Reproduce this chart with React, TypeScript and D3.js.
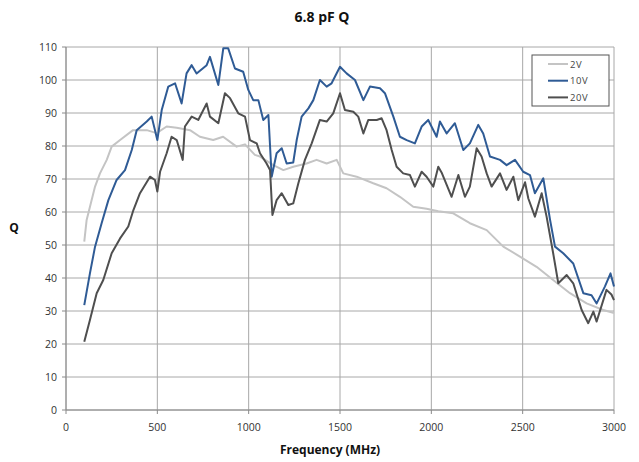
import React from "react";
import * as d3 from "d3";

const xTicks = [0, 500, 1000, 1500, 2000, 2500, 3000];
const yTicks = [0, 10, 20, 30, 40, 50, 60, 70, 80, 90, 100, 110];
const seriesNames = ["2V", "10V", "20V"];
const seriesColors = ["#c4c4c4", "#2f5b95", "#4f4f4f"];

const freq2V = [100,113,159,186,223,250,296,367,442,496,551,606,679,733,806,860,934,980,1034,1062,1135,1190,1244,1317,1372,1427,1482,1518,1591,1682,1755,1828,1901,1974,2038,2120,2211,2303,2394,2485,2576,2667,2759,2850,2941,3000];
const q2V = [51,57.6,67.7,71.7,75.8,79.8,81.8,84.8,84.8,83.9,85.9,85.5,84.8,82.8,81.8,82.8,79.8,80.5,77.3,76.8,74.2,72.7,73.7,74.7,75.8,74.7,75.8,71.7,70.7,68.7,67.2,64.6,61.6,61,60.2,59.6,56.6,54.5,49.5,46.5,43.4,39.4,35.4,32.3,30.3,29.4];

const freq10V = [100,131,159,195,232,277,323,360,387,442,469,500,524,560,597,633,660,688,715,770,788,834,861,888,925,970,998,1025,1053,1080,1108,1126,1153,1181,1208,1244,1263,1290,1327,1354,1390,1427,1454,1500,1536,1582,1628,1664,1719,1746,1792,1828,1865,1910,1947,1983,2029,2047,2084,2129,2175,2211,2257,2284,2321,2376,2412,2458,2503,2540,2567,2613,2650,2677,2722,2777,2832,2877,2905,2950,2981,3000];
const q10V = [31.8,41.4,49.5,56.6,63.6,69.7,72.7,78.8,84.8,87.4,88.9,81.8,90.9,98,99,92.9,102,104.5,102,104.5,107,98.5,109.6,109.6,103.5,102.5,97,93.9,93.9,87.9,89.4,70.7,77.8,79.3,74.7,75,81.8,88.9,91.4,93.9,100,98,99,104,102,100,93.9,98,97.5,96,88.9,82.8,81.8,80.8,85.9,87.9,82.8,87.4,83.8,86.9,78.8,80.8,86.4,83.8,76.8,75.8,74.2,75.8,72.2,71.2,65.7,70.2,57.6,49.5,47.5,44.4,35.4,34.8,32.3,37.4,41.4,37.4];

const freq20V = [100,131,168,204,250,296,341,369,405,460,487,500,515,551,578,606,639,651,688,724,770,788,834,870,898,943,980,1007,1044,1062,1098,1117,1130,1153,1181,1217,1244,1272,1308,1345,1390,1427,1463,1500,1527,1573,1600,1628,1655,1701,1728,1755,1783,1810,1846,1883,1910,1947,1974,2011,2038,2056,2111,2148,2184,2211,2248,2275,2303,2330,2376,2412,2449,2476,2513,2531,2567,2604,2631,2667,2695,2741,2777,2823,2859,2887,2905,2959,2986,3000];
const q20V = [20.7,27.3,35.4,39.4,47.5,52,55.6,60.6,65.7,70.7,69.7,66.2,72.2,77.8,82.8,81.8,75.8,85.9,88.9,87.9,92.9,88.9,86.9,96,94.5,89.9,88.9,81.8,80.8,77.8,74.7,72.7,59.1,63.6,65.7,62.1,62.6,68.7,75.8,80.8,87.9,87.4,89.9,96,90.9,90.4,88.9,83.8,87.9,87.9,88.4,84.8,78.8,73.7,71.7,71.2,67.7,72.2,70.7,67.7,73.7,72,64.6,71.2,64.6,67.7,79.3,76.8,71.7,67.7,71.7,66.7,70.7,63.6,69,64.1,58.6,65.7,58.6,47.5,38.4,40.9,38.4,30.3,26.3,29.8,26.8,36.4,35,33.3];

const W = 639, H = 462;
const M = { left: 66, right: 614, top: 47, bottom: 410 };
const FONT = "'Open Sans', 'Noto Sans', Arial, sans-serif";

export default function App() {
  const x = d3.scaleLinear().domain([0, 3000]).range([M.left, M.right]);
  const y = d3.scaleLinear().domain([0, 110]).range([M.bottom, M.top]);
  const line = d3.line<[number, number]>().x(d => x(d[0])).y(d => y(d[1]));
  const series: [number, number][][] = [
    d3.zip(freq2V, q2V) as [number, number][],
    d3.zip(freq10V, q10V) as [number, number][],
    d3.zip(freq20V, q20V) as [number, number][],
  ];
  const legX = 532, legY = 55, legW = 77, legH = 51;
  return (
    <svg width={W} height={H} style={{ position: "absolute", left: 0, top: 0, background: "#fff" }} fontFamily={FONT}>
      <text x={322} y={22} textAnchor="middle" fontSize={14} fontWeight="bold" fill="#111">6.8 pF Q</text>
      {yTicks.map(t => (
        <line key={"gy" + t} x1={M.left} x2={M.right} y1={y(t)} y2={y(t)} stroke="#a8a8a8" strokeWidth={1} />
      ))}
      {xTicks.map(t => (
        <line key={"gx" + t} x1={x(t)} x2={x(t)} y1={M.top} y2={M.bottom} stroke="#a8a8a8" strokeWidth={1} />
      ))}
      <line x1={M.left} x2={M.left} y1={M.top} y2={M.bottom} stroke="#8a8a8a" />
      <line x1={M.left} x2={M.right} y1={M.bottom} y2={M.bottom} stroke="#8a8a8a" />
      {yTicks.map(t => (
        <g key={"ty" + t}>
          <line x1={M.left - 4} x2={M.left} y1={y(t)} y2={y(t)} stroke="#8a8a8a" />
          <text x={M.left - 9} y={y(t) + 4} textAnchor="end" fontSize={10.5} fill="#333">{t}</text>
        </g>
      ))}
      {xTicks.map(t => (
        <g key={"tx" + t}>
          <line x1={x(t)} x2={x(t)} y1={M.bottom} y2={M.bottom + 4} stroke="#8a8a8a" />
          <text x={x(t)} y={431} textAnchor="middle" fontSize={10.5} fill="#333">{t}</text>
        </g>
      ))}
      <text x={14} y={232} textAnchor="middle" fontSize={12} fontWeight="bold" fill="#111">Q</text>
      <text x={330} y={454} textAnchor="middle" fontSize={12} fontWeight="bold" fill="#111">Frequency (MHz)</text>
      {series.map((s, i) => (
        <path key={"s" + i} d={line(s) || ""} fill="none" stroke={seriesColors[i]} strokeWidth={2} strokeLinejoin="round" />
      ))}
      <rect x={legX} y={legY} width={legW} height={legH} fill="#fff" stroke="#555" strokeWidth={1} />
      {seriesNames.map((n, i) => (
        <g key={"l" + n}>
          <line x1={548} x2={568} y1={64 + i * 16.7} y2={64 + i * 16.7} stroke={seriesColors[i]} strokeWidth={2} />
          <text x={570} y={64 + i * 16.7 + 3.5} fontSize={9.5} fill="#444" letterSpacing={0.6}>{n}</text>
        </g>
      ))}
    </svg>
  );
}
